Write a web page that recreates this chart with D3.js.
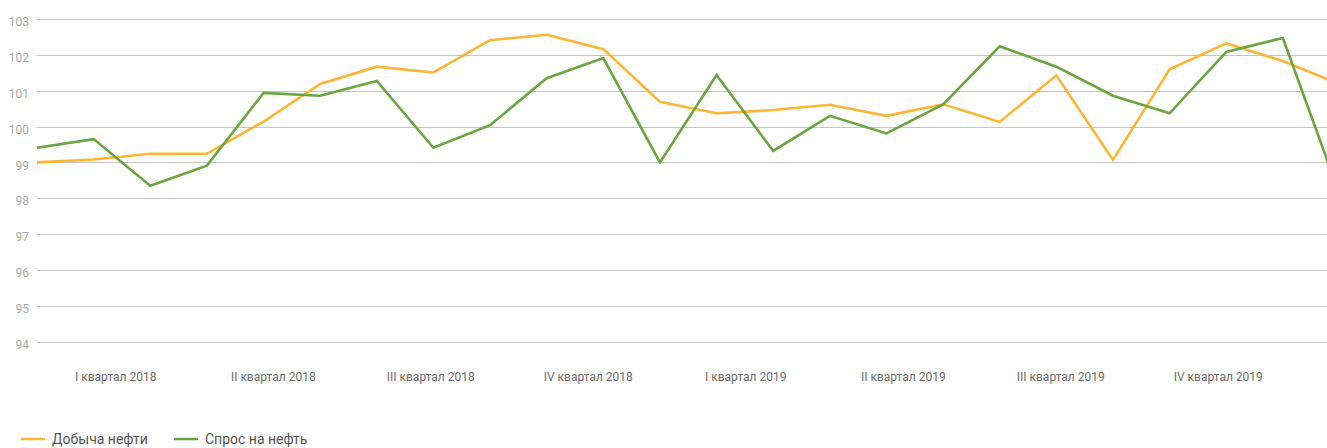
<!DOCTYPE html>
<html lang="ru">
<head>
    <meta charset="UTF-8">
    <title>Добыча и спрос на нефть</title>
    <script src="https://d3js.org/d3.v7.min.js"></script>
    <style>
        body {
            margin: 0;
            background-color: white;
            font-family: Roboto, "Noto Sans", sans-serif;
        }
        svg { display: block; }
    </style>
</head>
<body>
    <div id="chart"></div>

    <script>
        // месяцы 2018-2019
        const months = ["2018-01", "2018-02", "2018-03", "2018-04", "2018-05", "2018-06",
                        "2018-07", "2018-08", "2018-09", "2018-10", "2018-11", "2018-12",
                        "2019-01", "2019-02", "2019-03", "2019-04", "2019-05", "2019-06",
                        "2019-07", "2019-08", "2019-09", "2019-10", "2019-11", "2019-12"];
        const quarters = ["I квартал 2018", "II квартал 2018", "III квартал 2018", "IV квартал 2018",
                          "I квартал 2019", "II квартал 2019", "III квартал 2019", "IV квартал 2019"];
        const production = [99.0, 99.08, 99.24, 99.24, 100.14, 101.19, 101.67, 101.51,
                            102.41, 102.56, 102.16, 100.69, 100.37, 100.46, 100.61, 100.30,
                            100.62, 100.13, 101.43, 99.07, 101.60, 102.32, 101.83, 101.18];
        const demand = [99.41, 99.65, 98.35, 98.91, 100.94, 100.86, 101.27, 99.41,
                        100.04, 101.35, 101.91, 99.0, 101.44, 99.32, 100.30, 99.81,
                        100.62, 102.24, 101.67, 100.86, 100.37, 102.08, 102.47, 98.12];
        const yTicks = [94, 95, 96, 97, 98, 99, 100, 101, 102, 103];
        const seriesNames = ["Добыча нефти", "Спрос на нефть"];
        const colors = ["#fdb532", "#6aa540"];

        const width = 1327, height = 448;
        const svg = d3.select("#chart").append("svg")
            .attr("width", width)
            .attr("height", height);

        const y = d3.scaleLinear().domain([94, 103]).range([341.7, 19]);
        // точки месяцев (последняя чуть за краем)
        const x = d3.scalePoint().domain(months).range([37, 1339.5]);
        const xq = d3.scaleBand().domain(quarters).range([37, 1297]);

        // сетка
        svg.append("g")
            .selectAll("line")
            .data(yTicks)
            .join("line")
            .attr("x1", 37)
            .attr("x2", width)
            .attr("y1", d => Math.round(y(d)) + 0.5)
            .attr("y2", d => Math.round(y(d)) + 0.5)
            .attr("stroke", "#c4c4c4")
            .attr("stroke-width", 1.2);

        // подписи оси Y
        svg.append("g")
            .selectAll("text")
            .data(yTicks)
            .join("text")
            .attr("x", 29)
            .attr("y", d => y(d))
            .attr("dy", "0.6em")
            .attr("text-anchor", "end")
            .attr("font-size", 12)
            .attr("fill", "#a9a9a9")
            .text(d => d);

        // подписи кварталов
        svg.append("g")
            .selectAll("text")
            .data(quarters)
            .join("text")
            .attr("x", d => xq(d) + xq.bandwidth() / 2)
            .attr("y", 380.5)
            .attr("text-anchor", "middle")
            .attr("font-size", 12)
            .attr("fill", "#6b6b6b")
            .text(d => d);

        // линии
        const line = d3.line()
            .x((d, i) => x(months[i]))
            .y(d => y(d));

        [production, demand].forEach((s, k) => {
            svg.append("path")
                .datum(s)
                .attr("d", line)
                .attr("fill", "none")
                .attr("stroke", colors[k])
                .attr("stroke-width", 2.6)
                .attr("stroke-linejoin", "miter");
        });

        // легенда
        const legendX = [21, 174];
        const legend = svg.append("g")
            .selectAll("g")
            .data(seriesNames)
            .join("g")
            .attr("transform", (d, i) => `translate(${legendX[i]},439)`);

        legend.append("line")
            .attr("x1", 0)
            .attr("x2", 24)
            .attr("stroke", (d, i) => colors[i])
            .attr("stroke-width", 2.5);

        legend.append("text")
            .attr("x", 31)
            .attr("y", 5)
            .attr("font-size", 14)
            .attr("fill", "#555")
            .text(d => d);
    </script>
</body>
</html>
